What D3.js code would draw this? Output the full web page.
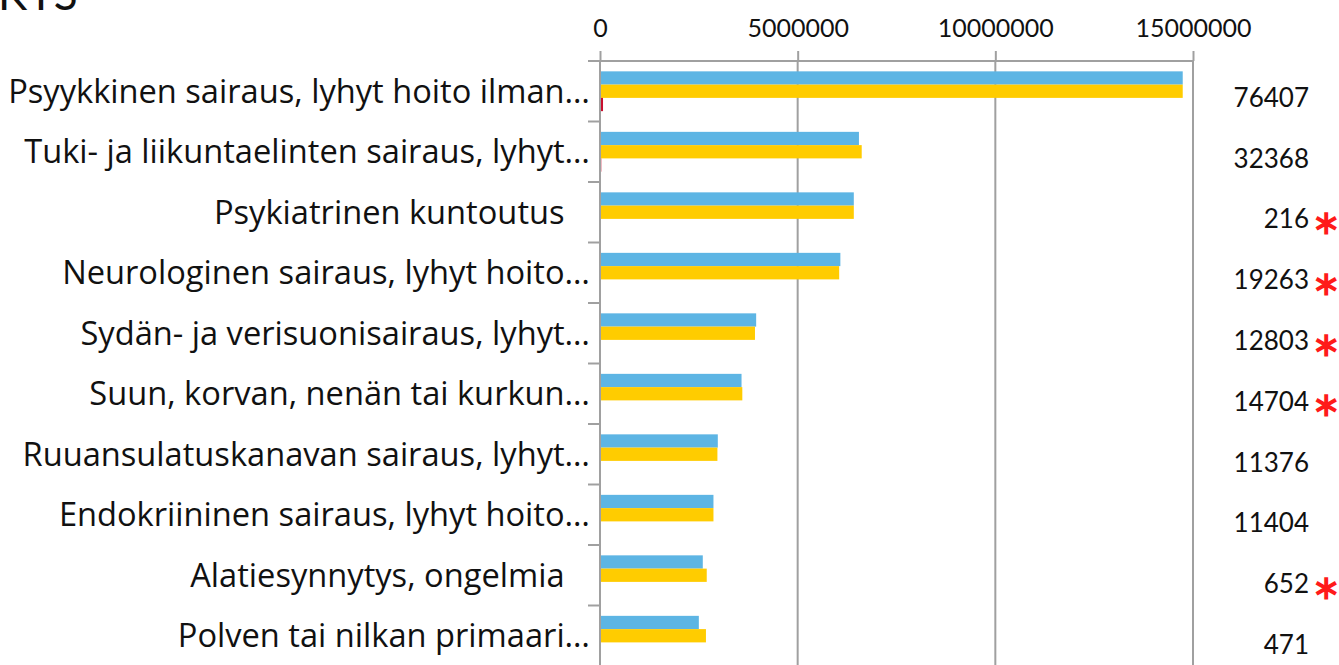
<!DOCTYPE html>
<html>
<head>
<meta charset="utf-8">
<script src="https://cdn.jsdelivr.net/npm/d3@7"></script>
<style>
  body { margin: 0; background: #fff; }
  svg text { font-family: "Open Sans", "Noto Sans", sans-serif; white-space: pre; }
</style>
</head>
<body>
<div id="chart"></div>
<script>
// categories (as shown in the chart, incl. trailing spaces)
const categories = [
  "Psyykkinen sairaus, lyhyt hoito ilman…",
  "Tuki- ja liikuntaelinten sairaus, lyhyt…",
  "Psykiatrinen kuntoutus\u00a0\u00a0\u00a0",
  "Neurologinen sairaus, lyhyt hoito…",
  "Sydän- ja verisuonisairaus, lyhyt…",
  "Suun, korvan, nenän tai kurkun…",
  "Ruuansulatuskanavan sairaus, lyhyt…",
  "Endokriininen sairaus, lyhyt hoito…",
  "Alatiesynnytys, ongelmia\u00a0\u00a0\u00a0",
  "Polven tai nilkan primaari…"
];
// series values
const seriesBlue   = [14740000, 6550000, 6420000, 6080000, 3950000, 3580000, 2980000, 2870000, 2600000, 2500000];
const seriesYellow = [14740000, 6620000, 6420000, 6050000, 3920000, 3600000, 2970000, 2870000, 2700000, 2680000];
const seriesCount  = [76407, 32368, 216, 19263, 12803, 14704, 11376, 11404, 652, 471];
const flagged      = [false, false, true, true, true, true, false, false, true, false];
const xTicks = [0, 5000000, 10000000, 15000000];

const W = 1339, H = 665;
const x0 = 600, x1 = 1193, yTop = 61, yBot = 666;

const svg = d3.select("#chart")
  .append("svg")
  .attr("width", W)
  .attr("height", H);

// cut off title at top left
svg.append("text")
  .attr("x", -2)
  .attr("y", 10)
  .attr("font-size", 44)
  .attr("fill", "#111")
  .style("font-family", "Lato, sans-serif")
  .text("KYS");

const x = d3.scaleLinear()
  .domain([0, 15000000])
  .range([x0, x1]);

const y = d3.scaleBand()
  .domain(categories)
  .range([yTop, yBot])
  .padding(0);

const subgroups = ["blue", "yellow", "count"];
const ySub = d3.scaleBand()
  .domain(subgroups)
  .range([0, y.bandwidth()])
  .paddingInner(0)
  .paddingOuter(0.78);

const color = d3.scaleOrdinal()
  .domain(subgroups)
  .range(["#5db5e4", "#ffcc00", "#c8102e"]);

// vertical gridlines
svg.append("g")
  .selectAll("line")
  .data(xTicks.slice(1))
  .join("line")
  .attr("x1", d => x(d)).attr("x2", d => x(d))
  .attr("y1", yTop).attr("y2", H)
  .attr("stroke", "#a0a0a0")
  .attr("stroke-width", 2);

// top axis
const xAxis = svg.append("g")
  .attr("transform", `translate(0,${yTop})`)
  .call(d3.axisTop(x).tickValues(xTicks).tickFormat(d3.format("d")).tickSize(10).tickPadding(14));
xAxis.select(".domain").attr("stroke", "#a0a0a0").attr("stroke-width", 2)
  .attr("d", `M${x0 - 12},0H${x1}`);
xAxis.selectAll(".tick line").attr("stroke", "#a0a0a0").attr("stroke-width", 2);
xAxis.selectAll(".tick text")
  .attr("font-size", 25)
  .attr("fill", "#111")
  .style("font-family", "Lato, sans-serif");

// bars
const rows = categories.map((c, i) => ({cat: c, blue: seriesBlue[i], yellow: seriesYellow[i], count: seriesCount[i]}));

svg.append("g")
  .selectAll("g")
  .data(rows)
  .join("g")
  .attr("transform", d => `translate(0,${y(d.cat)})`)
  .selectAll("rect")
  .data(d => subgroups.map(k => ({key: k, value: d[k]})))
  .join("rect")
  .attr("x", x(0))
  .attr("y", d => ySub(d.key))
  .attr("width", d => x(d.value) - x(0))
  .attr("height", ySub.bandwidth())
  .attr("fill", d => color(d.key));

// category axis line and boundary ticks
svg.append("line")
  .attr("x1", x0).attr("x2", x0)
  .attr("y1", yTop).attr("y2", H)
  .attr("stroke", "#a0a0a0").attr("stroke-width", 2);

svg.append("g")
  .selectAll("line")
  .data(categories)
  .join("line")
  .attr("x1", x0 - 12).attr("x2", x0)
  .attr("y1", d => y(d)).attr("y2", d => y(d))
  .attr("stroke", "#a0a0a0").attr("stroke-width", 2);

// category labels
const labels = svg.append("g")
  .selectAll("text")
  .data(categories)
  .join("text")
  .attr("x", x0 - 10)
  .attr("y", d => y(d) + y.bandwidth() / 2 + 3)
  .attr("text-anchor", "end")
  .attr("dominant-baseline", "middle")
  .attr("font-size", 28)
  .attr("fill", "#111")
  .text(d => d);

// fit the longest label to the width it has in the original
const firstLen = labels.node().getComputedTextLength();
labels.attr("font-size", 28 * 582 / firstLen);

// count labels on the right
svg.append("g")
  .selectAll("text")
  .data(rows)
  .join("text")
  .attr("x", 1309)
  .attr("y", (d, i) => y(d.cat) + y.bandwidth() / 2 + 9 + i * 0.3)
  .attr("text-anchor", "end")
  .attr("dominant-baseline", "middle")
  .attr("font-size", 26)
  .attr("fill", "#111")
  .style("font-family", "Lato, sans-serif")
  .text(d => d.count);

// significance asterisks
svg.append("g")
  .selectAll("text")
  .data(rows.filter((d, i) => flagged[i]))
  .join("text")
  .attr("x", 1326)
  .attr("y", d => y(d.cat) + y.bandwidth() / 2 + 12 + categories.indexOf(d.cat) * 0.3)
  .attr("text-anchor", "middle")
  .attr("dominant-baseline", "middle")
  .attr("font-size", 34)
  .attr("font-weight", "bold")
  .attr("fill", "#ff1a1a")
  .text("\u2217");
</script>
</body>
</html>
